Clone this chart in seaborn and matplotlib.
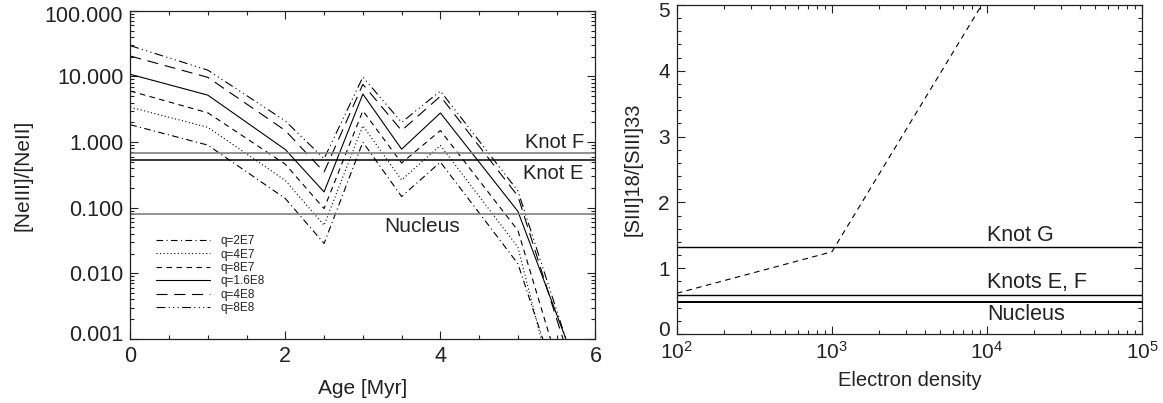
import numpy as np
import pandas as pd
import matplotlib
matplotlib.use("Agg")
import matplotlib.pyplot as plt
import matplotlib.ticker as mticker
from matplotlib.transforms import ScaledTranslation
import seaborn as sns

# ---------------- data ----------------
ages = [0, 1, 2, 2.5, 3, 3.5, 4, 5, 6]
labels_q = ["q=2E7", "q=4E7", "q=8E7", "q=1.6E8", "q=4E8", "q=8E8"]
ne_q2e7 = [1.84, 0.90, 0.138, 0.0285, 1.0, 0.148, 0.495, 0.014, 3.7e-6]
ne_q4e7 = [3.4, 1.68, 0.26, 0.054, 1.78, 0.265, 0.89, 0.025, 5.5e-7]
ne_q8e7 = [6.0, 2.8, 0.46, 0.097, 3.0, 0.48, 1.5, 0.045, 5.2e-6]
ne_q16e8 = [10.8, 5.2, 0.77, 0.174, 5.4, 0.78, 2.78, 0.088, 6.3e-5]
ne_q4e8 = [20.5, 9.7, 1.5, 0.35, 7.6, 1.5, 5.0, 0.15, 2.7e-5]
ne_q8e8 = [29.5, 12.5, 2.1, 0.56, 9.8, 2.0, 6.0, 0.18, 4.1e-5]
ne_series = [ne_q2e7, ne_q4e7, ne_q8e7, ne_q16e8, ne_q4e8, ne_q8e8]

ne_knot_labels = ["Knot F", "Knot E", "Nucleus"]
ne_knot_values = [0.685, 0.525, 0.0815]

density = [1e2, 1e3, 1e4]
s_ratio = [0.62, 1.25, 5.13]
s_knot_labels = ["Knot G", "Knots E, F", "Nucleus"]
s_knot_values = [1.33, 0.60, 0.49]

ne_yticks = [0.001, 0.01, 0.1, 1, 10, 100]
s_yticks = [0, 1, 2, 3, 4, 5]

# ---------------- style ----------------
sns.set_style("ticks")
plt.rcParams.update({
    "font.family": ["Liberation Sans", "DejaVu Sans"],
    "font.size": 14,
    "xtick.direction": "in",
    "ytick.direction": "in",
    "xtick.top": True,
    "ytick.right": True,
    "xtick.major.size": 6,
    "ytick.major.size": 6,
    "xtick.minor.size": 3,
    "ytick.minor.size": 3,
    "xtick.major.width": 0.8,
    "ytick.major.width": 0.8,
    "xtick.minor.width": 0.8,
    "ytick.minor.width": 0.8,
    "xtick.major.pad": 5,
    "ytick.major.pad": 5,
    "axes.linewidth": 0.9,
    "axes.edgecolor": "#222222",
    "xtick.color": "#222222",
    "ytick.color": "#222222",
    "text.color": "#222222",
    "axes.labelcolor": "#222222",
})

styles = [
    (0, (6, 3, 1, 3)),
    (0, (1, 2.2)),
    (0, (5, 4)),
    "-",
    (0, (10, 6)),
    (0, (8, 3, 1, 3, 1, 3, 1, 3)),
]

fig = plt.figure(figsize=(11.63, 4.03), dpi=100)
ax1 = fig.add_axes([0.112, 0.159, 0.400, 0.814])
ax2 = fig.add_axes([0.582, 0.171, 0.400, 0.817])

# ---------------- left panel ----------------
for lab, vals, ls in zip(labels_q, ne_series, styles):
    df = pd.DataFrame({"age": ages, "ratio": vals})
    sns.lineplot(data=df, x="age", y="ratio", ax=ax1, color="black",
                 linestyle=ls, linewidth=0.8, label=lab, sort=False,
                 estimator=None)

ax1.set_yscale("log")
ax1.set_xlim(0, 6)
ax1.set_ylim(0.001, 100)
ax1.axhline(ne_knot_values[0], color="#808080", lw=1.2)
ax1.axhline(ne_knot_values[1], color="black", lw=1.1)
ax1.axhline(ne_knot_values[2], color="#808080", lw=1.2)
ax1.text(5.85, 1.0, ne_knot_labels[0], ha="right", va="center", fontsize=14.5)
ax1.text(5.85, 0.33, ne_knot_labels[1], ha="right", va="center", fontsize=14.5)
ax1.text(3.77, 0.051, ne_knot_labels[2], ha="center", va="center", fontsize=15)

ax1.xaxis.set_major_locator(mticker.MultipleLocator(2))
ax1.xaxis.set_minor_locator(mticker.MultipleLocator(0.5))
ax1.yaxis.set_major_locator(mticker.FixedLocator(ne_yticks))
ax1.yaxis.set_minor_locator(mticker.LogLocator(base=10, subs=np.arange(2, 10), numticks=20))
ax1.yaxis.set_major_formatter(mticker.FuncFormatter(lambda v, p: f"{v:.3f}"))
ax1.yaxis.set_minor_formatter(mticker.NullFormatter())
ax1.tick_params(labelsize=15.5)
ax1.set_xlabel("Age [Myr]", fontsize=15, labelpad=9)
ax1.set_ylabel("[NeIII]/[NeII]", fontsize=15, labelpad=9)

leg = ax1.legend(loc="upper left", bbox_to_anchor=(0.035, 0.345), frameon=False,
                 fontsize=8.5, handlelength=4.6, handletextpad=0.9,
                 labelspacing=0.12, borderpad=0.3)
for line in leg.get_lines():
    line.set_linewidth(0.8)

# ---------------- right panel ----------------
dfs = pd.DataFrame({"ne": density, "ratio": s_ratio})
sns.lineplot(data=dfs, x="ne", y="ratio", ax=ax2, color="black",
             linestyle=(0, (5, 4)), linewidth=0.8, sort=False, estimator=None)
ax2.set_xscale("log")
ax2.set_xlim(1e2, 1e5)
ax2.set_ylim(0, 5)
ax2.axhline(s_knot_values[0], color="black", lw=1.0)
ax2.axhline(s_knot_values[1], color="black", lw=1.0)
ax2.axhline(s_knot_values[2], color="black", lw=1.4)
ax2.text(1.0e4, 1.5, s_knot_labels[0], ha="left", va="center", fontsize=15.5)
ax2.text(1.0e4, 0.78, s_knot_labels[1], ha="left", va="center", fontsize=15.5)
ax2.text(1.0e4, 0.30, s_knot_labels[2], ha="left", va="center", fontsize=15.5)
ax2.yaxis.set_major_locator(mticker.FixedLocator(s_yticks))
ax2.yaxis.set_minor_locator(mticker.MultipleLocator(0.2))
ax2.xaxis.set_major_locator(mticker.LogLocator(base=10, numticks=10))
ax2.xaxis.set_minor_locator(mticker.LogLocator(base=10, subs=np.arange(2, 10), numticks=20))
ax2.xaxis.set_minor_formatter(mticker.NullFormatter())
ax2.tick_params(labelsize=15)
ax2.set_xlabel("Electron density", fontsize=14.5, labelpad=6)
ax2.set_ylabel("[SIII]18/[SIII]33", fontsize=14.5, labelpad=11)


def shift_label(tick, dy_px):
    lab = tick.label1
    lab.set_transform(lab.get_transform() +
                      ScaledTranslation(0, dy_px / 100.0, fig.dpi_scale_trans))


fig.canvas.draw()
t1 = ax1.yaxis.get_major_ticks()
shift_label(t1[0], 6)
shift_label(t1[-1], -3)
t2 = ax2.yaxis.get_major_ticks()
shift_label(t2[0], 6)
shift_label(t2[-1], -5)

fig.savefig("out.png", dpi=100)
